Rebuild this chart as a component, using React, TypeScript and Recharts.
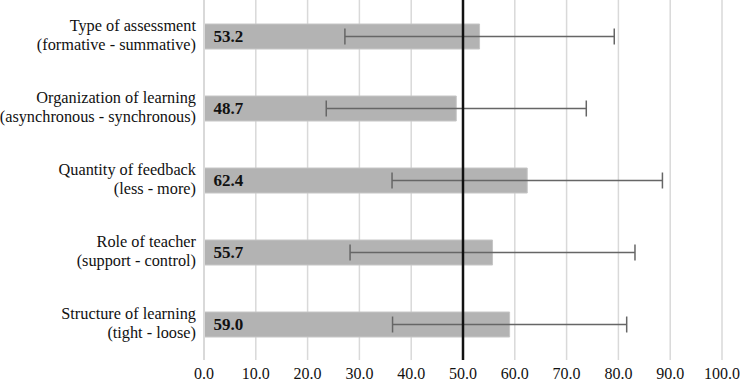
import React from "react";
import {
  BarChart,
  Bar,
  XAxis,
  YAxis,
  CartesianGrid,
  ErrorBar,
  LabelList,
  ReferenceLine,
} from "recharts";

const titles = [
  "Type of assessment",
  "Organization of learning",
  "Quantity of feedback",
  "Role of teacher",
  "Structure of learning",
];
const subtitles = [
  "(formative - summative)",
  "(asynchronous - synchronous)",
  "(less - more)",
  "(support - control)",
  "(tight - loose)",
];
const means = [53.2, 48.7, 62.4, 55.7, 59.0];
const sds = [26.0, 25.1, 26.1, 27.5, 22.6];
const xTicks = [0, 10, 20, 30, 40, 50, 60, 70, 80, 90, 100];

const data = titles.map((t, i) => ({
  name: t,
  sub: subtitles[i],
  value: means[i],
  sd: sds[i],
}));

const FONT = "Liberation Serif, Times New Roman, serif";

const YTick = (props: any) => {
  const { y, payload, index } = props;
  const sub = subtitles[index] ?? "";
  const xr = 196;
  return (
    <g>
      <text x={xr} y={y - 4.7} textAnchor="end" fontFamily={FONT} fontSize={16.3} fill="#111">
        {payload.value}
      </text>
      <text x={xr} y={y + 14.2} textAnchor="end" fontFamily={FONT} fontSize={16.3} fill="#111">
        {sub}
      </text>
    </g>
  );
};

const XTick = (props: any) => {
  const { x, payload } = props;
  return (
    <text x={x} y={379} textAnchor="middle" fontFamily={FONT} fontSize={16} fill="#111">
      {Number(payload.value).toFixed(1)}
    </text>
  );
};

const ValueLabel = (props: any) => {
  const { x, y, height, value } = props;
  return (
    <text
      x={x + 9.5}
      y={y + height / 2 + 5.5}
      textAnchor="start"
      fontFamily={FONT}
      fontSize={17}
      fontWeight="bold"
      fill="#111"
    >
      {Number(value).toFixed(1)}
    </text>
  );
};

export default function App() {
  return (
    <div style={{ position: "absolute", left: 0, top: 0, background: "#fff" }}>
      <BarChart
        width={740}
        height={381}
        data={data}
        layout="vertical"
        margin={{ top: 0, right: 18, bottom: 0, left: 0 }}
      >
        <CartesianGrid horizontal={false} stroke="#d9d9d9" strokeWidth={1.5} />
        <XAxis
          type="number"
          domain={[0, 100]}
          ticks={xTicks}
          interval={0}
          height={21}
          axisLine={false}
          tickLine={false}
          tick={<XTick />}
        />
        <YAxis
          type="category"
          dataKey="name"
          width={204}
          axisLine={{ stroke: "#d9d9d9", strokeWidth: 2 }}
          tickLine={false}
          tick={<YTick />}
        />
        <Bar
          dataKey="value"
          fill="#b3b3b3"
          stroke="#c6c6c6"
          strokeWidth={1}
          barSize={25}
          isAnimationActive={false}
        >
          <ErrorBar dataKey="sd" direction="x" width={8} stroke="#666" strokeWidth={1.5} />
          <LabelList dataKey="value" content={<ValueLabel />} />
        </Bar>
        <ReferenceLine x={50} stroke="#111" strokeWidth={2.5} />
      </BarChart>
    </div>
  );
}
